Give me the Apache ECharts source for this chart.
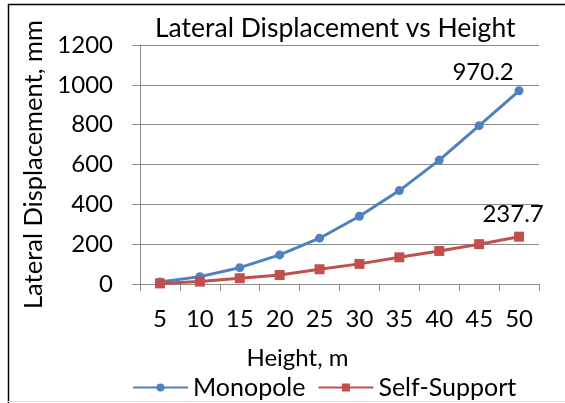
<!DOCTYPE html>
<html>
<head>
<meta charset="utf-8">
<title>Lateral Displacement vs Height</title>
<script src="https://cdn.jsdelivr.net/npm/echarts@6/dist/echarts.min.js"></script>
<style>
  html, body { margin: 0; padding: 0; background: #fff; }
  #main { width: 565px; height: 403px; }
</style>
</head>
<body>
<div id="main"></div>
<script>
// data
var heights = ['5', '10', '15', '20', '25', '30', '35', '40', '45', '50'];
var monopole = [10, 37, 82, 146, 230, 340, 469, 622, 795, 970.2];
var selfSupport = [3, 12, 29, 45, 74, 101, 134, 166, 200, 237.7];
var yTicks = [0, 200, 400, 600, 800, 1000, 1200];

var font = 'Lato, sans-serif';
var grey = '#8c8c8c';

// only the last point of each series gets a label
function lastLabel(arr, offset) {
  return arr.map(function (v, i) {
    if (i !== arr.length - 1) return v;
    return {
      value: v,
      label: { show: true, position: 'top', offset: offset, formatter: '{c}',
        color: '#000', fontSize: 24, fontFamily: font }
    };
  });
}

var myChart = echarts.init(document.getElementById('main'));
myChart.setOption({
  animation: false,
  backgroundColor: '#fff',
  title: {
    text: 'Lateral Displacement vs Height',
    left: 155,
    top: 15,
    padding: 0,
    textStyle: { fontSize: 26.5, fontWeight: 'normal', color: '#000', fontFamily: font }
  },
  legend: {
    left: 127,
    top: 370,
    itemWidth: 55,
    itemHeight: 10,
    itemGap: 12,
    textStyle: { fontSize: 25, color: '#000', fontFamily: font },
    data: ['Monopole', 'Self-Support']
  },
  grid: { left: 140, right: 26, top: 45, bottom: 119, containLabel: false },
  xAxis: {
    type: 'category',
    data: heights,
    boundaryGap: true,
    name: 'Height, m',
    nameLocation: 'middle',
    nameGap: 62,
    nameTextStyle: { fontSize: 24, color: '#000', fontFamily: font, padding: [0, 84, 0, 0] },
    axisLine: { lineStyle: { color: grey, width: 1 } },
    axisTick: { show: true, alignWithLabel: false, interval: 0, length: 7, lineStyle: { color: grey } },
    axisLabel: { fontSize: 24, color: '#000', fontFamily: font, margin: 23, interval: 0 }
  },
  yAxis: {
    type: 'value',
    min: yTicks[0],
    max: yTicks[yTicks.length - 1],
    interval: 200,
    name: 'Lateral Displacement, mm',
    nameLocation: 'middle',
    nameGap: 89,
    nameTextStyle: { fontSize: 25.5, color: '#000', fontFamily: font },
    axisLine: { show: true, lineStyle: { color: grey, width: 1 } },
    axisTick: { show: true, length: 8, lineStyle: { color: grey } },
    axisLabel: { fontSize: 24, color: '#000', fontFamily: font, margin: 27,
      formatter: function (v) { return String(v); } },
    splitLine: { lineStyle: { color: grey, width: 1 } }
  },
  series: [
    {
      name: 'Monopole',
      type: 'line',
      data: lastLabel(monopole, [-36, 3]),
      symbol: 'circle',
      symbolSize: 9,
      lineStyle: { color: '#4F81BD', width: 3 },
      itemStyle: { color: '#4F81BD' }
    },
    {
      name: 'Self-Support',
      type: 'line',
      data: lastLabel(selfSupport, [-6, 0]),
      symbol: 'rect',
      symbolSize: 10,
      lineStyle: { color: '#C0504D', width: 3 },
      itemStyle: { color: '#C0504D' }
    }
  ],
  graphic: [
    // chart frame, cut off at right and bottom like the source
    { type: 'line', shape: { x1: 8.5, y1: 4, x2: 8.5, y2: 403 }, style: { stroke: '#000', lineWidth: 1.5 } },
    { type: 'line', shape: { x1: 8, y1: 4.5, x2: 565, y2: 4.5 }, style: { stroke: '#000', lineWidth: 1.5 } },
    { type: 'line', shape: { x1: 8, y1: 401.5, x2: 565, y2: 401.5 }, style: { stroke: '#d9d9d9', lineWidth: 1 } }
  ]
});
</script>
</body>
</html>
